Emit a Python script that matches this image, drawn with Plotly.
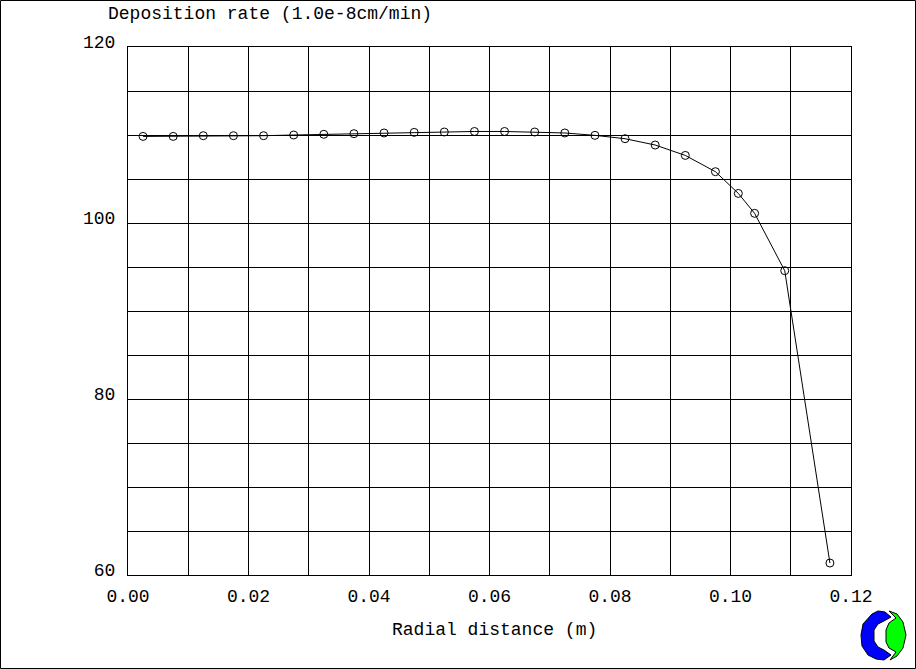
import plotly.graph_objects as go

# ---- data ----
radial_distance = [0.0025, 0.0075, 0.0125, 0.0175, 0.0225, 0.0275, 0.0325, 0.0375,
                   0.0425, 0.0475, 0.0525, 0.0575, 0.0625, 0.0675, 0.0725, 0.0775,
                   0.0825, 0.0875, 0.0925, 0.0975, 0.1013, 0.1040, 0.1090, 0.1165]
deposition_rate = [109.84, 109.84, 109.92, 109.92, 109.92, 110.0, 110.08, 110.15,
                   110.23, 110.3, 110.34, 110.4, 110.4, 110.34, 110.23, 109.96,
                   109.58, 108.86, 107.68, 105.83, 103.36, 101.1, 94.58, 61.36]
x_tick_vals = [0.00, 0.02, 0.04, 0.06, 0.08, 0.10, 0.12]
x_tick_text = ["0.00", "0.02", "0.04", "0.06", "0.08", "0.10", "0.12"]
y_tick_vals = [60, 80, 100, 120]
y_tick_text = ["60", "80", "100", "120"]
y_title = "Deposition rate (1.0e-8cm/min)"
x_title = "Radial distance (m)"

W, H = 916, 669
L, R, T, B = 128, 65, 47, 94
PW, PH = W - L - R, H - T - B
FONT = "Liberation Mono, Courier New, monospace"


def px(x):
    return (x - L) / PW


def py(y):
    return (H - B - y) / PH


def path(points):
    return "M " + " L ".join(f"{px(a):.5f},{py(b):.5f}" for a, b in points) + " Z"


fig = go.Figure()
fig.add_trace(go.Scatter(
    x=radial_distance, y=deposition_rate, mode="lines+markers",
    line=dict(color="black", width=1),
    marker=dict(symbol="circle-open", size=8, color="black", line=dict(width=1)),
    showlegend=False, hoverinfo="skip"))

axis_common = dict(showline=True, linecolor="black", linewidth=1, mirror=True,
                   showgrid=True, gridcolor="black", gridwidth=1, zeroline=False,
                   ticks="", tickfont=dict(family=FONT, size=18, color="black"),
                   tickmode="array")

fig.update_xaxes(range=[0, 0.12], tickvals=x_tick_vals, ticktext=x_tick_text,
                 minor=dict(dtick=0.01, showgrid=True, gridcolor="black", gridwidth=1),
                 ticklabelstandoff=4, **axis_common)
fig.update_yaxes(range=[60, 120], tickvals=y_tick_vals, ticktext=y_tick_text,
                 minor=dict(dtick=5, showgrid=True, gridcolor="black", gridwidth=1),
                 ticklabelstandoff=8, ticklabelshift=-5, **axis_common)

blue_pts = [(872, 614), (878, 611), (885, 612), (891, 617), (884, 621), (878, 624),
            (874, 630), (874, 641), (878, 647), (884, 650), (891, 655), (884, 660),
            (876, 659), (868, 655), (862, 646), (861, 635), (863, 624)]
green_pts = [(889, 611), (897, 614), (903, 622), (906, 635), (903, 648), (897, 656),
             (890, 660), (896, 652), (889, 648), (886, 642), (886, 630), (889, 623),
             (896, 618)]

shapes = [
    dict(type="rect", xref="paper", yref="paper",
         x0=px(0.5), x1=px(W - 0.5), y0=py(H - 0.5), y1=py(0.5),
         line=dict(color="black", width=1), layer="above"),
    dict(type="path", xref="paper", yref="paper", path=path(blue_pts),
         fillcolor="#0000ff", line=dict(color="black", width=1)),
    dict(type="path", xref="paper", yref="paper", path=path(green_pts),
         fillcolor="#00ff00", line=dict(color="black", width=1)),
]

annotations = [
    dict(text=y_title, xref="paper", yref="paper", x=px(106), y=py(14),
         xanchor="left", yanchor="middle", showarrow=False,
         font=dict(family=FONT, size=18, color="black")),
    dict(text=x_title, xref="paper", yref="paper", x=px(494), y=py(630),
         xanchor="center", yanchor="middle", showarrow=False,
         font=dict(family=FONT, size=18, color="black")),
]

fig.update_layout(width=W, height=H, margin=dict(l=L, r=R, t=T, b=B),
                  paper_bgcolor="white", plot_bgcolor="white",
                  shapes=shapes, annotations=annotations)

fig.write_html("out.html", config={"displayModeBar": False},
               post_script="document.body.style.margin='0';"
                           "document.body.style.overflow='hidden';")
